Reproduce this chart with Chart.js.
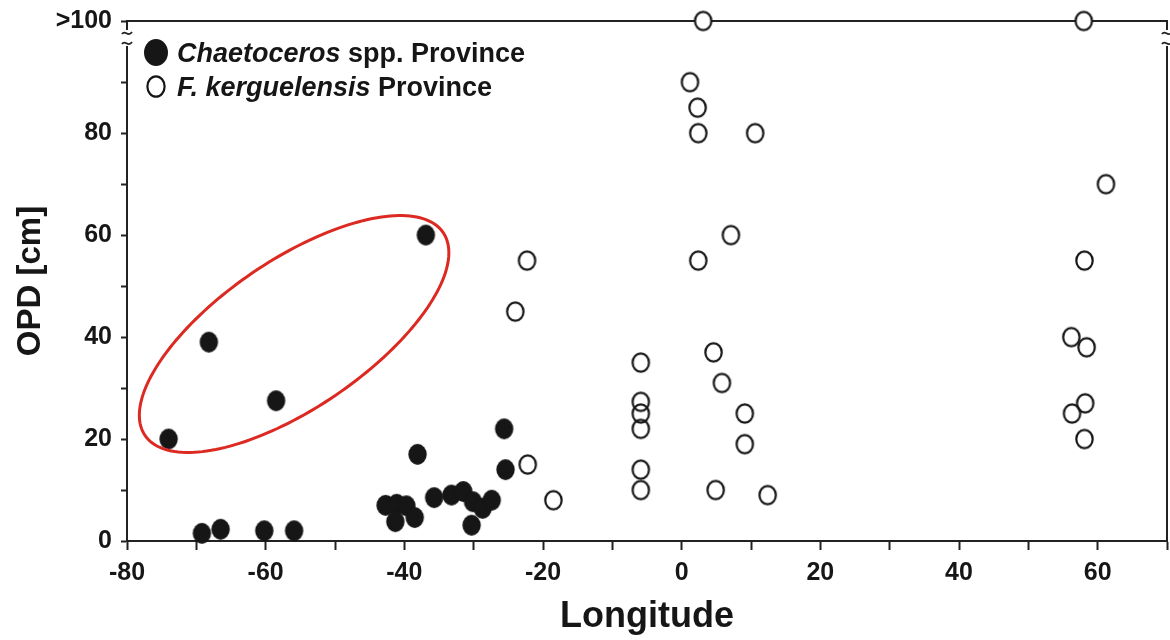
<!DOCTYPE html>
<html>
<head>
<meta charset="utf-8">
<script src="https://cdn.jsdelivr.net/npm/chart.js@4.4.1/dist/chart.umd.min.js"></script>
<style>
  html, body { margin: 0; padding: 0; background: #ffffff; }
  #wrap { width: 1170px; height: 640px; position: relative; }
</style>
</head>
<body>
<div id="wrap"><canvas id="c" width="1170" height="640"></canvas></div>
<script>
// Stations: longitude (degrees) and OPD (cm) for each diatom province
const OFF_SCALE = 102; // ">100" row, drawn above the axis break

const chaetocerosLon = [-74.0, -68.2, -58.5, -36.9, -69.2, -66.5, -60.2, -55.9,
  -42.7, -41.1, -39.7, -41.3, -38.5, -38.1, -35.7, -33.2, -31.5, -30.1, -28.7,
  -27.4, -30.3, -25.6, -25.4];
const chaetocerosOPD = [20, 39, 27.5, 60, 1.5, 2.3, 2, 2,
  7, 7.2, 6.9, 3.8, 4.6, 17, 8.5, 9, 9.7, 7.7, 6.4,
  8, 3.1, 22, 14];

const kerguelensisLon = [3.1, 58.0, 1.2, 2.3, 2.4, 10.6, 61.2, 7.1, 2.4, -22.3, -24.0,
  58.1, 56.2, 58.4, 58.2, 56.3, 58.1,
  -5.9, -5.9, -5.9, -5.9, -5.9, -5.9,
  4.6, 5.8, 9.1, 9.1, 4.9, 12.4, -22.2, -18.5];
const kerguelensisOPD = [OFF_SCALE, OFF_SCALE, 90, 85, 80, 80, 70, 60, 55, 55, 45,
  55, 40, 38, 27, 25, 20,
  35, 27.3, 25, 22, 14, 10,
  37, 31, 25, 19, 10, 9, 15, 8];

// Legend text: italic taxon name + plain remainder
const seriesItalic = ['Chaetoceros', 'F. kerguelensis'];
const seriesPlain = [' spp. Province', ' Province'];

// Axis ticks
const xMin = -80, xMax = 70;
const xLabelValues = [-80, -60, -40, -20, 0, 20, 40, 60];
const yTickValues = [0, 10, 20, 30, 40, 50, 60, 70, 80, 90, OFF_SCALE];
const yLabelValues = [0, 20, 40, 60, 80];

// Highlighted group of Chaetoceros stations (ellipse in data units)
const groupCenter = [-55.9, 40.6];
const groupAxisA = [21.5, 19.9];
const groupAxisB = [6.0, -12.0];

const INK = '#161616';
const FONT = '"Liberation Sans", Arial, Helvetica, sans-serif';

function ellipseImage(rx, ry, fill, stroke, lw) {
  const c = document.createElement('canvas');
  const w = Math.ceil(2 * rx + lw + 2), h = Math.ceil(2 * ry + lw + 2);
  c.width = w; c.height = h;
  const g = c.getContext('2d');
  g.beginPath();
  g.ellipse(w / 2, h / 2, rx, ry, 0, 0, Math.PI * 2);
  if (fill) { g.fillStyle = fill; g.fill(); }
  if (stroke) { g.lineWidth = lw; g.strokeStyle = stroke; g.stroke(); }
  return c;
}

const dotFilled = ellipseImage(9.2, 10.4, INK, null, 0);
const dotOpen = ellipseImage(8.2, 9.2, null, INK, 2.2);
const dotOpenTop = ellipseImage(8.2, 9.2, '#ffffff', INK, 2.2);
const legendMarks = [ellipseImage(12, 13.5, INK, null, 0), ellipseImage(8.6, 10.2, '#ffffff', INK, 2.2)];

function points(xs, ys) { return xs.map((x, i) => ({ x: x, y: ys[i] })); }

// Top/right frame with the broken-axis marks
const framePlugin = {
  id: 'frame',
  beforeDatasetsDraw(chart) {
    const { ctx, chartArea: a } = chart;
    ctx.save();
    ctx.strokeStyle = '#222';
    ctx.lineWidth = 2;
    ctx.beginPath();
    ctx.moveTo(a.left, a.top);
    ctx.lineTo(a.right, a.top);
    ctx.lineTo(a.right, a.bottom);
    ctx.stroke();
    [a.left, a.right].forEach(x => {
      ctx.fillStyle = '#ffffff';
      ctx.fillRect(x - 3, a.top + 9, 6, 16);
      ctx.lineWidth = 1.8;
      [a.top + 12, a.top + 22].forEach(y => {
        ctx.beginPath();
        ctx.moveTo(x - 5, y + 1);
        ctx.bezierCurveTo(x - 2, y - 4, x + 1, y + 5, x + 5, y - 1);
        ctx.stroke();
      });
    });
    ctx.restore();
  }
};

// Ellipse around the highlighted group
const groupPlugin = {
  id: 'groupEllipse',
  afterDatasetsDraw(chart) {
    const { ctx } = chart;
    const xs = chart.scales.x, ys = chart.scales.y;
    ctx.save();
    ctx.strokeStyle = '#dc2a22';
    ctx.lineWidth = 3;
    ctx.beginPath();
    for (let k = 0; k <= 180; k++) {
      const t = (k / 180) * Math.PI * 2;
      const vx = groupCenter[0] + groupAxisA[0] * Math.cos(t) + groupAxisB[0] * Math.sin(t);
      const vy = groupCenter[1] + groupAxisA[1] * Math.cos(t) + groupAxisB[1] * Math.sin(t);
      const px = xs.getPixelForValue(vx), py = ys.getPixelForValue(vy);
      if (k === 0) ctx.moveTo(px, py); else ctx.lineTo(px, py);
    }
    ctx.closePath();
    ctx.stroke();
    ctx.restore();
  }
};

// Legend with mixed italic / upright text
const legendPlugin = {
  id: 'mixedLegend',
  afterDatasetsDraw(chart) {
    const { ctx, chartArea: a } = chart;
    const size = 27;
    ctx.save();
    ctx.fillStyle = INK;
    ctx.textBaseline = 'alphabetic';
    chart.data.datasets.forEach((ds, i) => {
      const cy = a.top + 31.5 + i * 34;
      const mk = legendMarks[i];
      ctx.drawImage(mk, a.left + 29 - mk.width / 2, cy - mk.height / 2);
      let x = a.left + 50;
      const base = cy + 9.5;
      ctx.font = 'italic bold ' + size + 'px ' + FONT;
      ctx.fillText(seriesItalic[i], x, base);
      x += ctx.measureText(seriesItalic[i]).width;
      ctx.font = 'bold ' + size + 'px ' + FONT;
      ctx.fillText(seriesPlain[i], x, base);
    });
    ctx.restore();
  }
};

new Chart(document.getElementById('c'), {
  type: 'scatter',
  data: {
    datasets: [
      {
        label: seriesItalic[0] + seriesPlain[0],
        data: points(chaetocerosLon, chaetocerosOPD),
        pointStyle: dotFilled,
        pointRadius: 10,
        clip: false
      },
      {
        label: seriesItalic[1] + seriesPlain[1],
        data: points(kerguelensisLon, kerguelensisOPD),
        pointStyle: ctx => (ctx.raw && ctx.raw.y >= OFF_SCALE ? dotOpenTop : dotOpen),
        pointRadius: 10,
        clip: false
      }
    ]
  },
  options: {
    responsive: false,
    animation: false,
    devicePixelRatio: 1,
    layout: { autoPadding: false, padding: { top: 21, right: 3, left: 0, bottom: 0 } },
    plugins: { legend: { display: false }, tooltip: { enabled: false } },
    scales: {
      x: {
        type: 'linear',
        position: 'bottom',
        min: xMin,
        max: xMax,
        afterFit: s => { s.height = 99; s.paddingLeft = 0; s.paddingRight = 0; },
        ticks: {
          stepSize: 10,
          color: INK,
          padding: 8,
          font: { family: FONT, size: 25, weight: 'bold' },
          callback: v => (xLabelValues.includes(v) ? String(v) : '')
        },
        grid: { drawOnChartArea: false, drawTicks: true, tickLength: 9, tickWidth: 2, tickColor: '#222' },
        border: { display: true, color: '#222', width: 2 },
        title: {
          display: true,
          text: 'Longitude',
          color: INK,
          font: { family: FONT, size: 36, weight: 'bold' },
          padding: { top: 0, bottom: 1 }
        }
      },
      y: {
        type: 'linear',
        position: 'left',
        min: 0,
        max: OFF_SCALE,
        afterFit: s => { s.width = 127; s.paddingTop = 0; s.paddingBottom = 0; },
        afterBuildTicks: s => { s.ticks = yTickValues.map(v => ({ value: v })); },
        ticks: {
          color: INK,
          padding: 9,
          font: { family: FONT, size: 25, weight: 'bold' },
          callback: v => (v === OFF_SCALE ? '>100' : (yLabelValues.includes(v) ? String(v) : ''))
        },
        grid: { drawOnChartArea: false, drawTicks: true, tickLength: 6, tickWidth: 2, tickColor: '#222' },
        border: { display: true, color: '#222', width: 2 },
        title: {
          display: true,
          text: 'OPD [cm]',
          color: INK,
          font: { family: FONT, size: 33, weight: 'bold' },
          padding: { top: 11, bottom: 0 }
        }
      }
    }
  },
  plugins: [framePlugin, groupPlugin, legendPlugin]
});
</script>
</body>
</html>
